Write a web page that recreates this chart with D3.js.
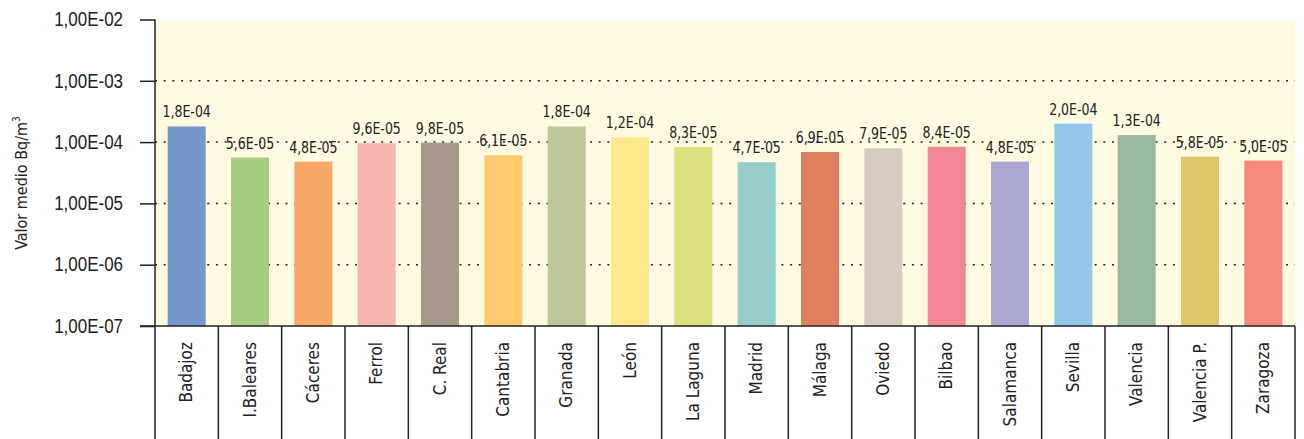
<!DOCTYPE html>
<html><head><meta charset="utf-8">
<script src="https://cdn.jsdelivr.net/npm/d3@7"></script>
<style>
body{margin:0;background:#fff;}
svg{display:block;font-family:"Liberation Sans Narrow","Arial Narrow","DejaVu Sans Condensed",sans-serif;}
</style></head>
<body><svg id="c" width="1304" height="439"></svg>
<script>
const categories = ["Badajoz","I.Baleares","Cáceres","Ferrol","C. Real","Cantabria","Granada","León","La Laguna","Madrid","Málaga","Oviedo","Bilbao","Salamanca","Sevilla","Valencia","Valencia P.","Zaragoza"];
const values = [1.8e-4,5.6e-5,4.8e-5,9.6e-5,9.8e-5,6.1e-5,1.8e-4,1.2e-4,8.3e-5,4.7e-5,6.9e-5,7.9e-5,8.4e-5,4.8e-5,2.0e-4,1.3e-4,5.8e-5,5.0e-5];
const valueLabels = ["1,8E-04","5,6E-05","4,8E-05","9,6E-05","9,8E-05","6,1E-05","1,8E-04","1,2E-04","8,3E-05","4,7E-05","6,9E-05","7,9E-05","8,4E-05","4,8E-05","2,0E-04","1,3E-04","5,8E-05","5,0E-05"];
const colors = ["#7397c8","#a8cd82","#f9a867","#f8b4b0","#a8978d","#fec96f","#bfc698","#fde98b","#dce07f","#96cdc8","#de7f5e","#d6cac3","#ef8796","#aaa8d3","#92c6ea","#98b9a0","#e2c46a","#f58a7c"];
const tickValues = [1e-7,1e-6,1e-5,1e-4,1e-3,1e-2];
const tickLabels = ["1,00E-07","1,00E-06","1,00E-05","1,00E-04","1,00E-03","1,00E-02"];

const L=155, R=1295, T=19.5, B=326, H=439;
const svg = d3.select("#c");
const x = d3.scaleBand().domain(categories).range([L,R]).paddingInner(0.4).paddingOuter(0.2);
const xb = d3.scaleBand().domain(categories).range([L,R]);
const y = d3.scaleLog().domain([1e-7,1e-2]).range([B,T]);

svg.append("rect").attr("x",L).attr("y",T).attr("width",R-L).attr("height",B-T).attr("fill","#fefbe2");

// grid
svg.append("g").selectAll("line").data(tickValues.filter(v=>v>1e-7&&v<1e-2)).join("line")
  .attr("x1",L).attr("x2",R).attr("y1",d=>y(d)).attr("y2",d=>y(d))
  .attr("stroke","#222").attr("stroke-width",1.5).attr("stroke-dasharray","2,6.7");

// bars
svg.append("g").selectAll("rect").data(categories).join("rect")
  .attr("x",d=>x(d)).attr("width",x.bandwidth())
  .attr("y",(d,i)=>y(values[i])).attr("height",(d,i)=>B-y(values[i]))
  .attr("fill",(d,i)=>colors[i]);

// value labels
svg.append("g").selectAll("text").data(categories).join("text")
  .attr("transform",(d,i)=>`translate(${x(d)+x.bandwidth()/2},${y(values[i])-9}) scale(0.9,1)`)
  .attr("text-anchor","middle").attr("font-size",15.5).attr("fill","#222")
  .text((d,i)=>valueLabels[i]);

// y axis
const yAxis = d3.axisLeft(y).tickValues(tickValues).tickFormat((d,i)=>tickLabels[i]).tickSize(15).tickPadding(14);
const ga = svg.append("g").attr("transform",`translate(${L},0)`).call(yAxis);
ga.select(".domain").remove();
ga.selectAll(".tick line").attr("stroke","#222").attr("stroke-width",1.5);
ga.selectAll(".tick text").attr("font-size",19.5).attr("fill","#222").attr("font-family","inherit")
  .attr("x",0).attr("transform","translate(-32,0) scale(0.87,1)");
svg.append("line").attr("x1",L).attr("x2",L).attr("y1",T).attr("y2",H).attr("stroke","#222").attr("stroke-width",1.5);

// category table
svg.append("line").attr("x1",140).attr("x2",R).attr("y1",B).attr("y2",B).attr("stroke","#222").attr("stroke-width",1.5);
svg.append("g").selectAll("line").data(categories).join("line")
  .attr("x1",d=>xb(d)+xb.bandwidth()).attr("x2",d=>xb(d)+xb.bandwidth())
  .attr("y1",B).attr("y2",H).attr("stroke","#222").attr("stroke-width",1.5);
svg.append("g").selectAll("text").data(categories).join("text")
  .attr("transform",d=>`translate(${xb(d)+xb.bandwidth()/2},342) rotate(-90)`)
  .attr("text-anchor","end").attr("dy","0.33em").attr("font-size",17).attr("fill","#222")
  .text(d=>d);

// y title
const yt = svg.append("text").attr("transform","translate(21,183) rotate(-90)")
  .attr("text-anchor","middle").attr("dy","0.35em").attr("font-size",16).attr("fill","#222");
yt.append("tspan").text("Valor medio Bq/m");
yt.append("tspan").text("3").attr("font-size",10).attr("dy","-0.7em");
</script></body></html>
